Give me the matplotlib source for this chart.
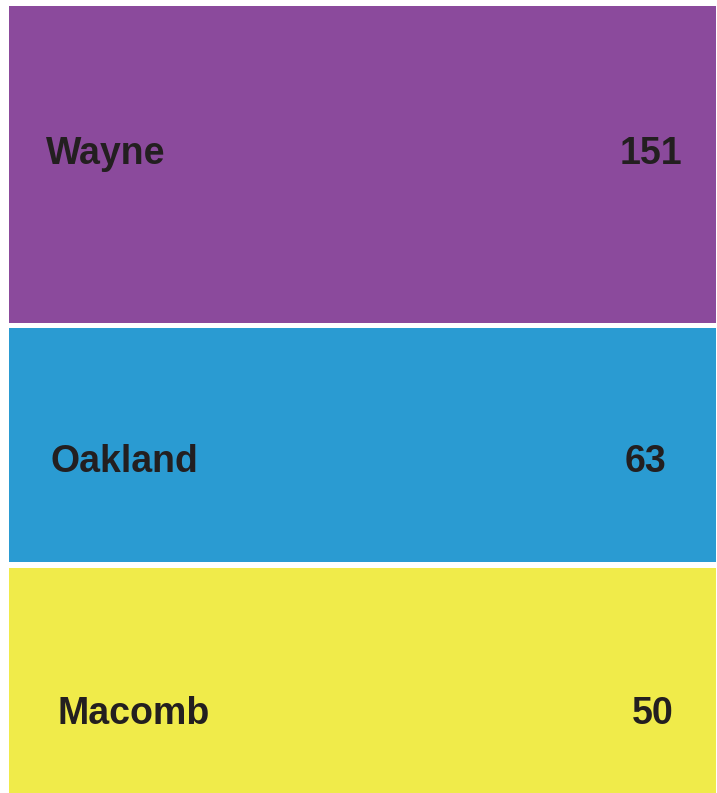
import matplotlib.pyplot as plt

# data
counties = ['Wayne', 'Oakland', 'Macomb']
counts = [151, 63, 50]
colors = ['#8b4a9c', '#2a9bd2', '#f0eb4a']

# block extents in pixels (top, bottom) as drawn in the source chart
block_top = [6, 328, 568]
block_bottom = [322.5, 562, 793]

# label placement inside each block
label_y = [154, 462, 714]
name_x = [46, 50, 58]
value_x = [682, 666, 674]

W, H = 717, 793
fig = plt.figure(figsize=(W / 100, H / 100), dpi=100)
ax = fig.add_axes([0, 0, 1, 1])
ax.set_xlim(0, W)
ax.set_ylim(H, 0)
ax.axis('off')

for i, name in enumerate(counties):
    h = block_bottom[i] - block_top[i]
    ax.barh(block_top[i] + h / 2, 707, left=9, height=h, color=colors[i], linewidth=0)
    ax.text(name_x[i], label_y[i], name, ha='left', va='center', fontsize=27,
            fontweight='bold', family='Liberation Sans', color='#231f20')
    ax.text(value_x[i], label_y[i], str(counts[i]), ha='right', va='center', fontsize=27,
            fontweight='bold', family='Liberation Sans', color='#231f20')

fig.savefig('out.png', dpi=100)
